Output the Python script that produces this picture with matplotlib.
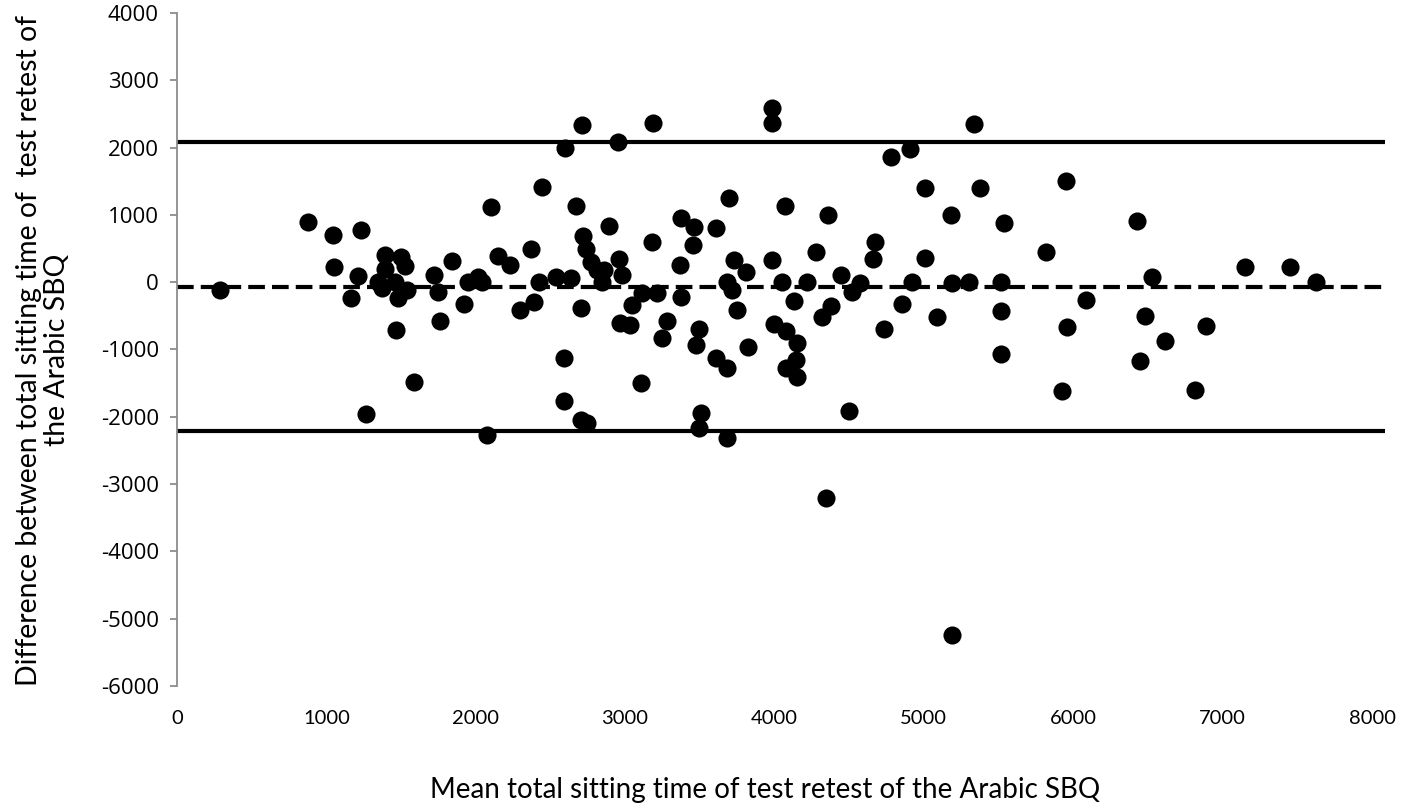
"""Bland-Altman plot: test-retest of the Arabic SBQ total sitting time."""

import matplotlib
matplotlib.use("Agg")

import matplotlib.pyplot as plt

# mean of test and retest (x) and their difference (y)
mean_sitting = [
    287, 876, 1043, 1050, 1163, 1210, 1230, 1263, 1344, 1370,
    1390, 1393, 1457, 1464, 1477, 1497, 1524, 1540, 1584, 1720,
    1745, 1758, 1838, 1918, 1945, 2012, 2045, 2075, 2100, 2152,
    2226, 2299, 2373, 2393, 2426, 2446, 2540, 2594, 2594, 2600,
    2640, 2674, 2707, 2707, 2714, 2720, 2737, 2747, 2770, 2810,
    2848, 2861, 2894, 2955, 2961, 2978, 2968, 3035, 3048, 3108,
    3115, 3182, 3188, 3215, 3249, 3282, 3369, 3376, 3376, 3456,
    3463, 3476, 3496, 3496, 3509, 3610, 3610, 3683, 3683, 3683,
    3697, 3717, 3730, 3750, 3811, 3824, 3984, 3984, 3980, 3997,
    4051, 4070, 4078, 4078, 4131, 4144, 4151, 4151, 4218, 4278,
    4318, 4345, 4358, 4378, 4445, 4499, 4519, 4575, 4659, 4672,
    4733, 4779, 4853, 4906, 4920, 5007, 5007, 5087, 5180, 5187,
    5187, 5301, 5334, 5374, 5515, 5515, 5515, 5535, 5816, 5922,
    5949, 5956, 6085, 6424, 6444, 6477, 6524, 6611, 6818, 6892,
    7152, 7453, 7627,
]
diff_sitting = [
    -119, 892, 698, 223, -238, 89, 773, -1961, 0, -90,
    401, 200, 0, -713, -230, 371, 238, -110, -1486, 110,
    -149, -579, 312, -327, 0, 74, 0, -2273, 1114, 386,
    253, -416, 500, -297, 0, 1412, 74, -1129, -1768, 1991,
    59, 1129, -2050, -390, 2333, 683, 490, -2095, 297, 178,
    0, 178, 832, 2080, 350, 104, -609, -639, -342, -1501,
    -163, 594, 2363, -163, -832, -579, 253, -223, 951, 550,
    817, -936, -698, -2169, -1946, 802, -1129, 0, -1278, -2318,
    1248, -119, 327, -410, 149, -966, 2585, 2363, 327, -620,
    0, 1129, -730, -1278, -275, -1150, -900, -1405, 0, 446,
    -520, -3210, 996, -350, 110, -1917, -140, -15, 342, 594,
    -698, 1857, -327, 1976, 0, 1397, 357, -520, 996, -15,
    -5245, 0, 2348, 1397, 0, -431, -1070, 877, 446, -1620,
    1501, -669, -267, 906, -1174, -505, 74, -877, -1605, -654,
    223, 223, 0,
]

# bias and 95% limits of agreement
mean_diff = -65
upper_loa = 2083
lower_loa = -2213

x_ticks = [0, 1000, 2000, 3000, 4000, 5000, 6000, 7000, 8000]
y_ticks = [4000, 3000, 2000, 1000, 0, -1000, -2000, -3000, -4000, -5000, -6000]

W, H = 1416, 809
fig = plt.figure(figsize=(W / 100, H / 100), dpi=100)
# plot area in pixels: x 177..1385, y 13..686
ax = fig.add_axes([177 / W, 1 - 686 / H, (1385 - 177) / W, (686 - 13) / H])

ax.axhline(upper_loa, color="black", linewidth=3, zorder=2)
ax.axhline(lower_loa, color="black", linewidth=3, zorder=2)
ax.axhline(mean_diff, color="black", linewidth=3, linestyle=(0, (4, 1.7)), zorder=2)
ax.scatter(mean_sitting, diff_sitting, s=170, color="black", linewidths=0, zorder=3)

ax.set_xlim(0, 8000 * (1385 - 177) / (1372 - 177))
ax.set_ylim(-6000, 4000)
ax.set_xticks(x_ticks)
ax.set_yticks(y_ticks)
ax.set_xticklabels([str(v) for v in x_ticks], family="Lato", fontsize=14.5)
ax.set_yticklabels([str(v) for v in y_ticks], family="Open Sans", fontsize=16)

for side in ("top", "right", "bottom"):
    ax.spines[side].set_visible(False)
ax.spines["left"].set_color("#8c8c8c")
ax.spines["left"].set_linewidth(1.3)
ax.tick_params(axis="y", direction="out", length=5, width=1.3, color="#8c8c8c", pad=8)
ax.tick_params(axis="x", length=0, pad=17)

fig.text(765 / W, 1 - 790 / H, "Mean total sitting time of test retest of the Arabic SBQ",
         ha="center", va="center", family="Lato", fontsize=20)
fig.text(43 / W, 1 - 350 / H,
         "Difference between total sitting time of  test retest of\nthe Arabic SBQ",
         ha="center", va="center", rotation=90, family="Lato", fontsize=20.4,
         multialignment="center", linespacing=1.05)

fig.savefig("out.png", dpi=100)
